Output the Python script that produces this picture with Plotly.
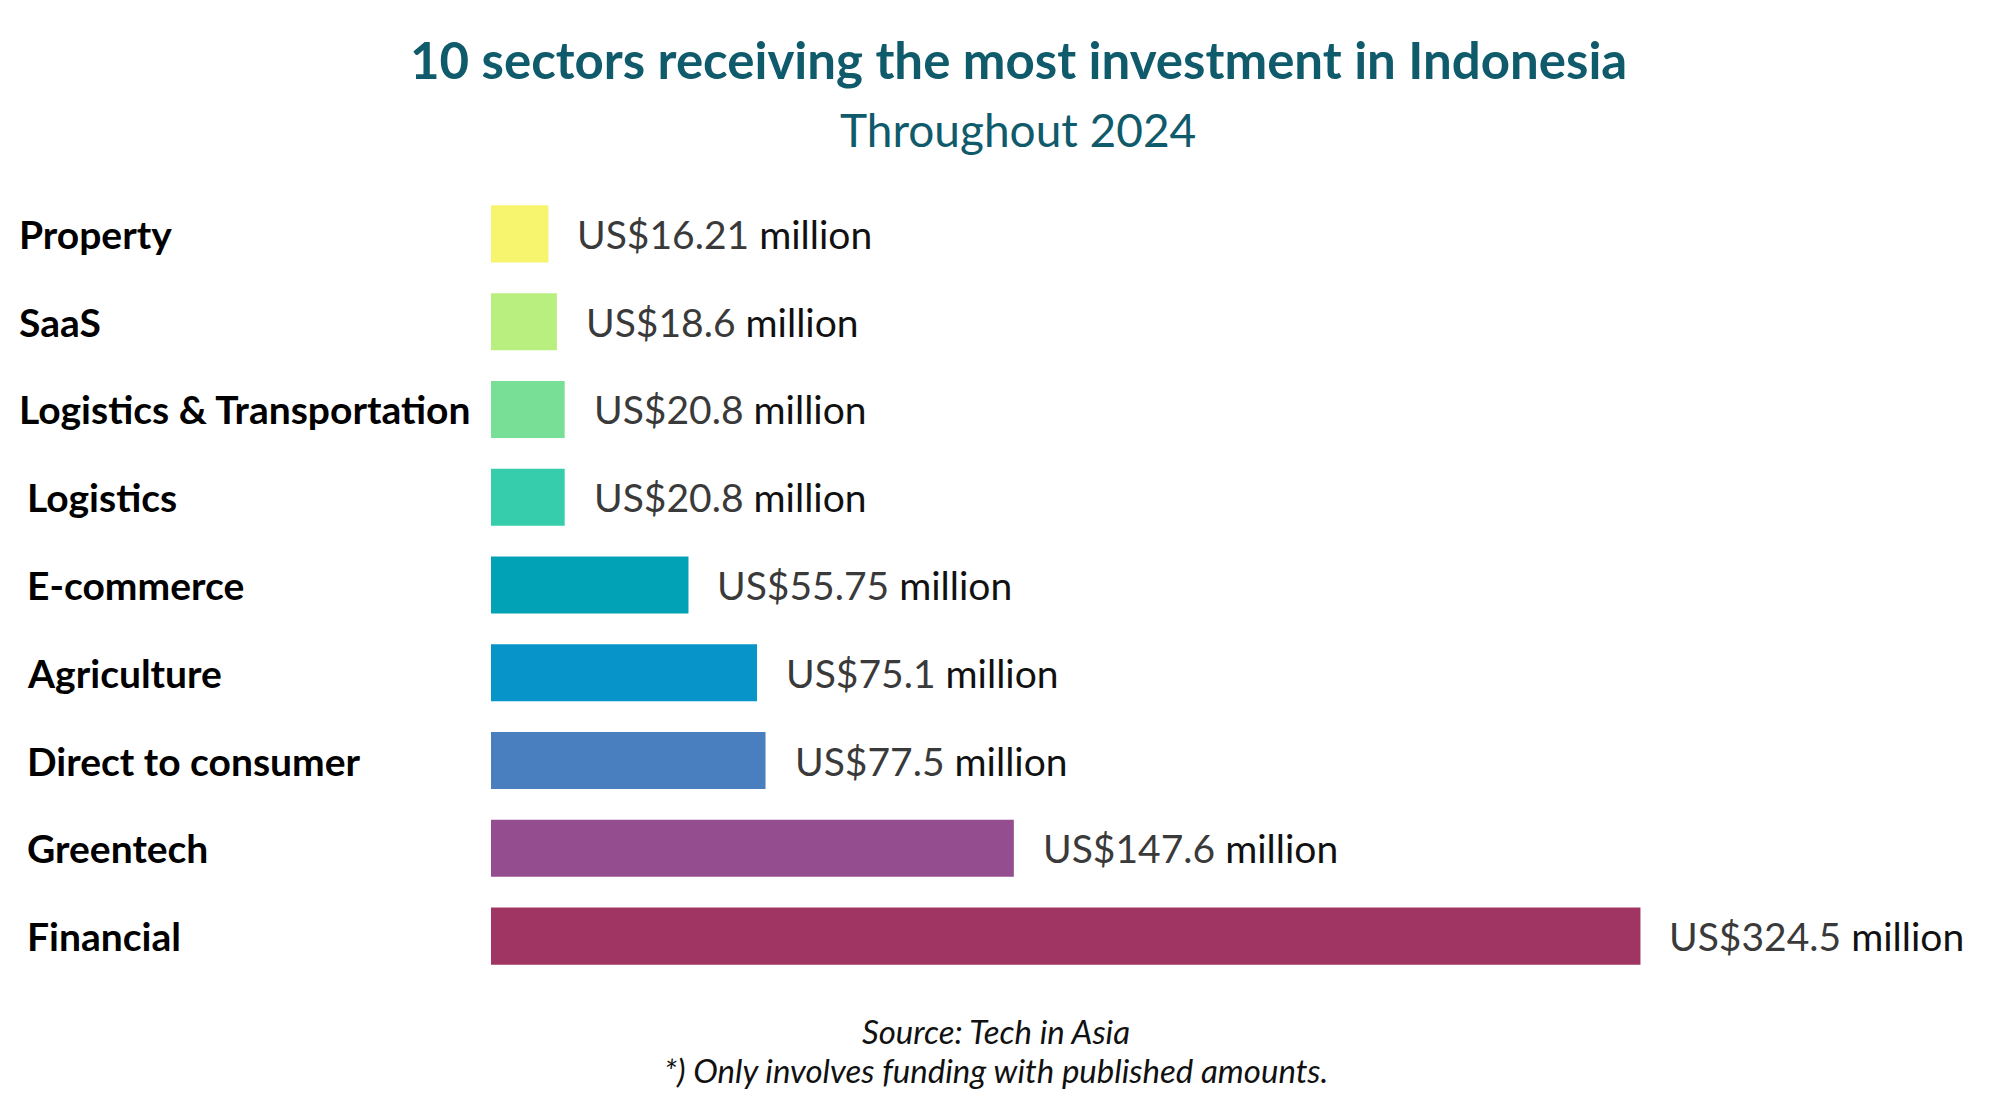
import plotly.graph_objects as go

categories = ["Property", "SaaS", "Logistics & Transportation", "Logistics", "E-commerce",
              "Agriculture", "Direct to consumer", "Greentech", "Financial"]
values = [16.21, 18.6, 20.8, 20.8, 55.75, 75.1, 77.5, 147.6, 324.5]
value_labels = ["16.21", "18.6", "20.8", "20.8", "55.75", "75.1", "77.5", "147.6", "324.5"]
colors = ["#f7f46e", "#b8ef7e", "#78df96", "#35cdab", "#01a2b6",
          "#0794c8", "#4a7fbf", "#944e8f", "#a03563"]
label_x = [17, 17, 17, 25, 25, 25, 25, 25, 25]

W, H = 2000, 1116
OFF = 8  # page body margin offset
TITLE_COLOR = "#0f5a6b"


def px(x):
    return (x - OFF) / W


def py(y):
    return 1 - (y - OFF) / H


fig = go.Figure(go.Bar(
    y=categories, x=values, orientation="h",
    marker=dict(color=colors, line=dict(width=0)),
    width=0.65, hoverinfo="skip",
))

annotations = []
for cat, lx in zip(categories, label_x):
    annotations.append(dict(
        text="<b>%s</b>" % cat, xref="paper", yref="y", x=px(lx), y=cat,
        xanchor="left", yanchor="middle", showarrow=False,
        font=dict(family="Lato", size=39, color="#000000")))
for cat, v, lab in zip(categories, values, value_labels):
    annotations.append(dict(
        text="<span style='color:#3a3a3a'>US$%s</span> million" % lab,
        xref="x", yref="y", x=v, y=cat, xanchor="left", yanchor="middle",
        xshift=27, showarrow=False,
        font=dict(family="Lato", size=39, color="#111111")))

annotations += [
    dict(text="<b>10 sectors receiving the most investment in Indonesia</b>",
         xref="paper", yref="paper", x=px(1018), y=py(60), xanchor="center", yanchor="middle",
         showarrow=False, font=dict(family="Lato", size=51, color=TITLE_COLOR)),
    dict(text="Throughout 2024",
         xref="paper", yref="paper", x=px(1018), y=py(130), xanchor="center", yanchor="middle",
         showarrow=False, font=dict(family="Lato", size=46, color=TITLE_COLOR)),
    dict(text="<i>Source: Tech in Asia</i>",
         xref="paper", yref="paper", x=px(996), y=py(1031), xanchor="center", yanchor="middle",
         showarrow=False, font=dict(family="Lato", size=33, color="#111111")),
    dict(text="<i>*) Only involves funding with published amounts.</i>",
         xref="paper", yref="paper", x=px(996), y=py(1070), xanchor="center", yanchor="middle",
         showarrow=False, font=dict(family="Lato", size=33, color="#111111")),
]

fig.update_layout(
    width=W, height=H, margin=dict(l=0, r=0, t=0, b=0),
    paper_bgcolor="white", plot_bgcolor="white", showlegend=False,
    xaxis=dict(domain=[px(491), 1.0], range=[0, 426 * (W - 491 + OFF) / (W - 491)],
               visible=False, fixedrange=True),
    yaxis=dict(domain=[py(980), py(190)], autorange="reversed",
               visible=False, fixedrange=True, type="category"),
    annotations=annotations,
)

fig.write_html("out.html", config=dict(displayModeBar=False))
